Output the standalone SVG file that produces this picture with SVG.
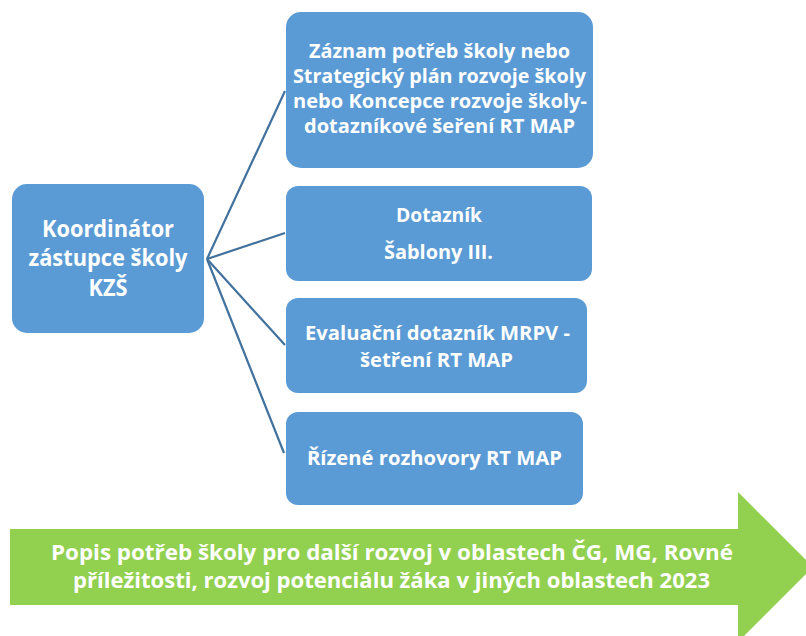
<svg xmlns="http://www.w3.org/2000/svg" width="806" height="636" viewBox="0 0 806 636">
<style>
.box{fill:#5B9BD5;}
.t{font-family:"Open Sans","Liberation Sans",sans-serif;font-weight:bold;fill:#FFFFFF;text-anchor:middle;}
.f19{font-size:19px;}
.f20{font-size:20px;}
.f21{font-size:21px;}
.f23{font-size:23px;}
.conn{stroke:#41719C;stroke-width:2.2;fill:none;}
</style>
<rect width="806" height="636" fill="#FFFFFF"/>
<g id="connectors">
<line class="conn" x1="207" y1="259" x2="285" y2="91"/>
<line class="conn" x1="207" y1="259" x2="285" y2="233"/>
<line class="conn" x1="207" y1="259" x2="285" y2="345"/>
<line class="conn" x1="207" y1="259" x2="284" y2="453"/>
</g>
<g id="node-kzs">
<rect class="box" x="12" y="184" width="192" height="149" rx="15"/>
<text class="t f23" x="108" y="237" textLength="132" lengthAdjust="spacingAndGlyphs">Koordinátor</text>
<text class="t f23" x="108" y="266" textLength="159" lengthAdjust="spacingAndGlyphs">zástupce školy</text>
<text class="t f23" x="108" y="296" textLength="39" lengthAdjust="spacingAndGlyphs">KZŠ</text>
</g>
<g id="node-zaznam">
<rect class="box" x="286" y="12" width="307" height="156" rx="15"/>
<text class="t f19" x="439.5" y="58" textLength="261" lengthAdjust="spacingAndGlyphs">Záznam potřeb školy nebo</text>
<text class="t f19" x="439.5" y="83" textLength="293" lengthAdjust="spacingAndGlyphs">Strategický plán rozvoje školy</text>
<text class="t f19" x="440" y="108" textLength="294" lengthAdjust="spacingAndGlyphs">nebo Koncepce rozvoje školy-</text>
<text class="t f19" x="439.5" y="133" textLength="271" lengthAdjust="spacingAndGlyphs">dotazníkové šeření RT MAP</text>
</g>
<g id="node-dotaznik">
<rect class="box" x="286" y="186" width="306" height="95" rx="12"/>
<text class="t f20" x="439" y="222" textLength="86" lengthAdjust="spacingAndGlyphs">Dotazník</text>
<text class="t f20" x="438.5" y="259" textLength="109" lengthAdjust="spacingAndGlyphs">Šablony III.</text>
</g>
<g id="node-evaluacni">
<rect class="box" x="286" y="298" width="301" height="95" rx="12"/>
<text class="t f20" x="437.5" y="340" textLength="265" lengthAdjust="spacingAndGlyphs">Evaluační dotazník MRPV -</text>
<text class="t f20" x="436.5" y="367" textLength="153" lengthAdjust="spacingAndGlyphs">šetření RT MAP</text>
</g>
<g id="node-rizene">
<rect class="box" x="286" y="412" width="297" height="93" rx="12"/>
<text class="t f20" x="434.5" y="465" textLength="255" lengthAdjust="spacingAndGlyphs">Řízené rozhovory RT MAP</text>
</g>
<g id="node-popis">
<polygon fill="#92D050" points="10,529 738,529 738,492 813,567 738,642 738,605 10,605"/>
<text class="t f21" x="392" y="560" textLength="682" lengthAdjust="spacingAndGlyphs">Popis potřeb školy pro další rozvoj v oblastech ČG, MG, Rovné</text>
<text class="t f21" x="391.5" y="588" textLength="637" lengthAdjust="spacingAndGlyphs">příležitosti, rozvoj potenciálu žáka v jiných oblastech 2023</text>
</g>
</svg>
